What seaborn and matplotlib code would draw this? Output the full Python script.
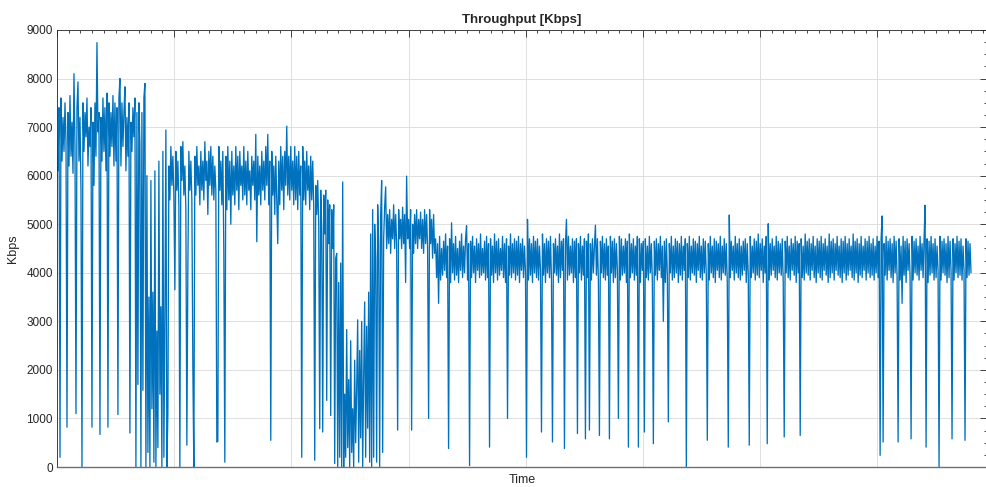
import matplotlib
matplotlib.use('Agg')
import numpy as np
import pandas as pd
import seaborn as sns
import matplotlib.pyplot as plt
from matplotlib.ticker import MultipleLocator, NullFormatter

# throughput samples in Kbps, one list per phase of the trace
phase_start = [6100, 7400, 200, 7600, 6300, 7200, 6500, 7500, 6700, 820,
               7300, 6200, 7650, 6400, 7100, 6050, 8100, 6600, 1100, 7400,
               7930, 6300, 7200, 5700, 0, 7500, 6500, 7300, 6800, 7600,
               6200, 7000, 6600, 7400, 820, 7100, 5800, 7500, 6400, 8740,
               6900, 7300, 670, 7200, 6300, 7600, 6500, 7400, 6100, 7700,
               820, 7500, 6400, 7300, 6600, 7650, 6200, 7500, 6300, 7400,
               1080, 7600, 8000, 6200, 7500, 6600, 7300, 7830, 6100, 7200,
               6400, 7500, 700, 7100, 6500, 7400, 6800, 7600, 0, 7300,
               1700, 7500, 6600, 0, 7300, 1580, 7600]
phase_drop = [7900, 0, 6000, 300, 3500, 0, 5900, 1200, 3600, 100,
              6100, 0, 2800, 400, 6300, 1500, 3300, 0, 6500, 200,
              3000, 6940, 0, 1100, 6200, 5500, 6600, 5800, 6400, 5600,
              3650, 6500, 5700, 6300, 5400, 0, 6600, 5900, 6700, 5600,
              6200, 5300, 450, 4100, 6500, 5700, 6300, 5500, 2050, 0,
              6400, 5600, 6600, 5800, 6200, 5400, 6500, 5700, 6300, 5500,
              6700, 5900, 6300, 5200, 6500, 5800, 6600, 5600, 6400, 5500,
              6200, 5700, 515, 530, 6600, 5700, 6300, 5400, 6500, 4430,
              100]
phase_mid = [6400, 5300, 6600, 5500, 6300, 5000, 6500, 5600, 6200, 5400,
             6600, 5700, 6400, 5300, 6500, 5800, 6200, 5500, 6600, 5600,
             6300, 5400, 6500, 5700, 6100, 5300, 6400, 5800, 6300, 5500,
             6850, 4640, 6400, 5600, 6200, 5400, 6500, 5700, 6300, 5500,
             6600, 5800, 6850, 5400, 6300, 550, 6500, 5600, 6200, 5200,
             6400, 5500, 4600, 6300, 5400, 6600, 5700, 6400, 5300, 6500,
             5800, 7020, 5600, 6400, 5500, 6600, 5700, 6300, 5400, 6600,
             5500, 6400, 5300, 6500, 5600, 6200, 200, 6600, 5500, 6300,
             5400, 6500, 5700, 6200, 5300, 6400, 5500, 6300, 5400]
phase_fall = [140, 5800, 5200, 5900, 5000, 790, 5700, 4900, 720, 5600,
              4800, 5700, 1370, 5500, 4600, 5400, 1060, 5300, 4500, 5400,
              70, 4300]
phase_outage = [4400, 0, 3800, 200, 4200, 0, 5870, 0, 1500, 200,
                2830, 400, 1800, 0, 2600, 300, 1200, 0, 2200, 500,
                1600, 3030, 100, 2400, 600, 3000, 0, 1900, 3400, 200,
                2900, 800, 3600, 100, 4800, 0]
phase_recover = [5300, 200, 5000, 4300, 100, 5400, 4600, 0, 5200, 5900,
                 300, 4700, 5350, 5770, 4500, 5200, 4600, 5300, 4400, 5100,
                 4700, 5400, 4500, 5200, 4600, 760, 5300, 4700, 5100, 4500,
                 5350, 4600, 5200, 3800, 5990, 4700, 5100, 4500, 5300, 760,
                 5000, 4400, 5200, 4600, 5300, 4500, 5100, 4700, 5250, 4500,
                 5100, 4400, 5300, 4600, 5200, 4500, 1000, 5300, 4600, 5100,
                 4300, 5200, 4400]
phase_steady = [
    4700, 3900, 4600, 3370, 4750, 3850, 4500, 3950, 4650, 4050,
    4800, 3900, 4550, 380, 4700, 3800, 5030, 4000, 4600, 3850,
    4750, 3950, 4500, 3800, 4650, 4050, 4800, 3900, 4550, 4000,
    4700, 4970, 3850, 4600, 30, 4650, 3900, 4750, 4000, 4550,
    3800, 4700, 4050, 4600, 3900, 4800, 3950, 4500, 4000, 4650,
    3850, 4750, 3900, 4600, 410, 4700, 3950, 4550, 3800, 4800,
    4000, 4650, 3850, 4700, 3950, 4500, 4050, 4750, 3900, 4600,
    3800, 4700, 1000, 4550, 3950, 4800, 3900, 4600, 4000, 4700,
    3850, 4650, 3950, 4750, 3800, 4600, 4050, 4700, 3900, 4550,
    4000, 200, 5100, 3850, 4700, 3950, 4600, 3800, 4750, 4000,
    4650, 3900, 4700, 3850, 4550, 4050, 720, 4800, 3950, 4600,
    3800, 4700, 4000, 4650, 3900, 4750, 3850, 515, 4600, 4000,
    4700, 3950, 4550, 3800, 4800, 3900, 4650, 4050, 4700, 380,
    4600, 5100, 3850, 4750, 3950, 4550, 4000, 4700, 3800, 4650,
    3900, 4700, 690, 4600, 4000, 4750, 3850, 4550, 3950, 4700,
    580, 4650, 3900, 4800, 760, 4600, 3850, 4700, 4000, 4550,
    4980, 3950, 4700, 3800, 650, 4650, 4000, 4750, 3900, 4600,
    3850, 4700, 3950, 4550, 580, 4750, 4000, 4650, 3800, 4700,
    3900, 4600, 4050, 1000, 4750, 3850, 4700, 3950, 4550, 4000,
    4700, 3800, 4650, 410, 4800, 3900, 4600, 4000, 4700, 3850,
    4550, 3950, 4750, 410, 4700, 3800, 4600, 4050, 4650, 720,
    4700, 3900, 4550, 3850, 4750, 4000, 4600, 3800, 480, 4650,
    3950, 4700, 3850, 4600, 4050, 4750, 3900, 4550, 3000, 4650,
    3800, 4700, 3950, 930, 4600, 4000, 4750, 3850, 4550, 3900,
    4700, 4000, 4650, 3800, 4600, 3950, 4750, 3850, 4550, 4050,
    4700, 0, 4600, 3900, 4750, 3850, 4550, 4000, 4700, 3950,
    4650, 3800, 4600, 4050, 4750, 3900, 4550, 3850, 4700, 4000,
    4650, 3950, 550, 4600, 3850, 4750, 4000, 4550, 3900, 4700,
    3800, 4650, 4050, 4600, 3900, 4750, 3850, 4550, 4000, 4700,
    3950, 4600, 3800, 410, 5190, 3900, 4650, 4050, 4550, 3850,
    4750, 4000, 4600, 3900, 4700, 3850, 4550, 3950, 4650, 4050,
    4700, 3800, 4600, 3950, 450, 4750, 3900, 4550, 4000, 4700,
    3850, 4650, 3950, 4800, 3900, 4600, 4050, 4700, 3800, 4550,
    4000, 4750, 480, 5010, 3850, 4600, 3950, 4700, 4050, 4550,
    3900, 4750, 3850, 4650, 4000, 4600, 3950, 4700, 3800, 620,
    4650, 4000, 4750, 3900, 4550, 3850, 4700, 4050, 4600, 3950,
    4750, 3800, 4650, 4000, 4600, 650, 4700, 3900, 4550, 3850,
    4800, 4000, 4650, 3950, 4700, 3850, 4600, 4050, 4750, 3900,
    4550, 3800, 4700, 4000, 4650, 3900, 4750, 3850, 4600, 4050,
    4700, 3950, 4550, 3800, 4800, 3900, 4650, 4000, 4700, 3850,
    4600, 4050, 4750, 3950, 4550, 3900, 4700, 3800, 4650, 4000,
    4750, 3850, 4600, 3950, 4700, 4050, 4550, 3900, 4800, 3850,
    4650, 4000, 4700, 3800, 4600, 3950, 4750, 3900, 4550, 4050,
    4700, 3850, 4650, 4000, 4750, 3900, 4600, 3950, 4700, 3850,
    4550, 4000, 4750, 3900, 4650, 240, 4700, 5170, 515, 4600,
    3950, 4750, 3850, 4650, 4050, 4700, 3900, 4600, 3800, 4750,
    4000, 4650, 3900, 515, 4700, 3850, 4550, 3370, 4750, 3950,
    4650, 3800, 4700, 4050, 4600, 3900, 580, 4750, 3850, 4650,
    4000, 4700, 3950, 4550, 3850, 4750, 4050, 4600, 3900, 4700,
    5390, 410, 4700, 3800, 4650, 3950, 4750, 4000, 4600, 3850,
    4700, 3900, 4550, 4050, 0, 4750, 3850, 4650, 4000, 4700,
    3950, 4600, 3800, 4750, 3900, 4650, 4050, 580, 4700, 3850,
    4600, 4000, 4750, 3900, 4650, 3950, 4700, 3850, 4550, 4050,
    550, 4700, 3900, 4650, 3950, 4600, 4000]

y_ticks = [0, 1000, 2000, 3000, 4000, 5000, 6000, 7000, 8000, 9000]

kbps = phase_start + phase_drop + phase_mid + phase_fall + phase_outage + phase_recover + phase_steady
df = pd.DataFrame({'Time': np.arange(1, len(kbps) + 1), 'Kbps': kbps})

sns.set_style('white')
plt.rcParams['font.family'] = ['Liberation Sans', 'DejaVu Sans']

fig = plt.figure(figsize=(9.87, 4.87), dpi=100)
ax = fig.add_axes([57 / 987, 20 / 487, 930 / 987, 437 / 487])

sns.lineplot(data=df, x='Time', y='Kbps', ax=ax, color='#0072BD', linewidth=0.95,
             sort=False, estimator=None)

ax.set_xlim(0, 931)
ax.set_ylim(0, 9000)
ax.set_yticks(y_ticks)
ax.xaxis.set_major_locator(MultipleLocator(117.3))
ax.xaxis.set_minor_locator(MultipleLocator(11.73))
ax.xaxis.set_major_formatter(NullFormatter())
ax.yaxis.set_minor_locator(MultipleLocator(250))

ax.grid(True, which='major', color='#dedede', linewidth=0.7)
ax.set_axisbelow(True)
ax.tick_params(which='both', direction='in', top=True, right=True,
               color='#262626', width=0.6, labelsize=8.5, labelcolor='#262626', pad=3)
ax.tick_params(which='major', length=5)
ax.tick_params(which='minor', length=2.5)
for s in ax.spines.values():
    s.set_color('#262626')
    s.set_linewidth(0.6)
ax.spines['bottom'].set_color('#707070')
ax.spines['bottom'].set_linewidth(1.0)

ax.set_title('Throughput [Kbps]', fontsize=9.5, fontweight='bold', pad=5)
ax.set_ylabel('Kbps', fontsize=9, color='#262626', labelpad=5)
ax.set_xlabel('Time', fontsize=9, color='#262626', labelpad=2)

fig.savefig('out.png', dpi=100)
